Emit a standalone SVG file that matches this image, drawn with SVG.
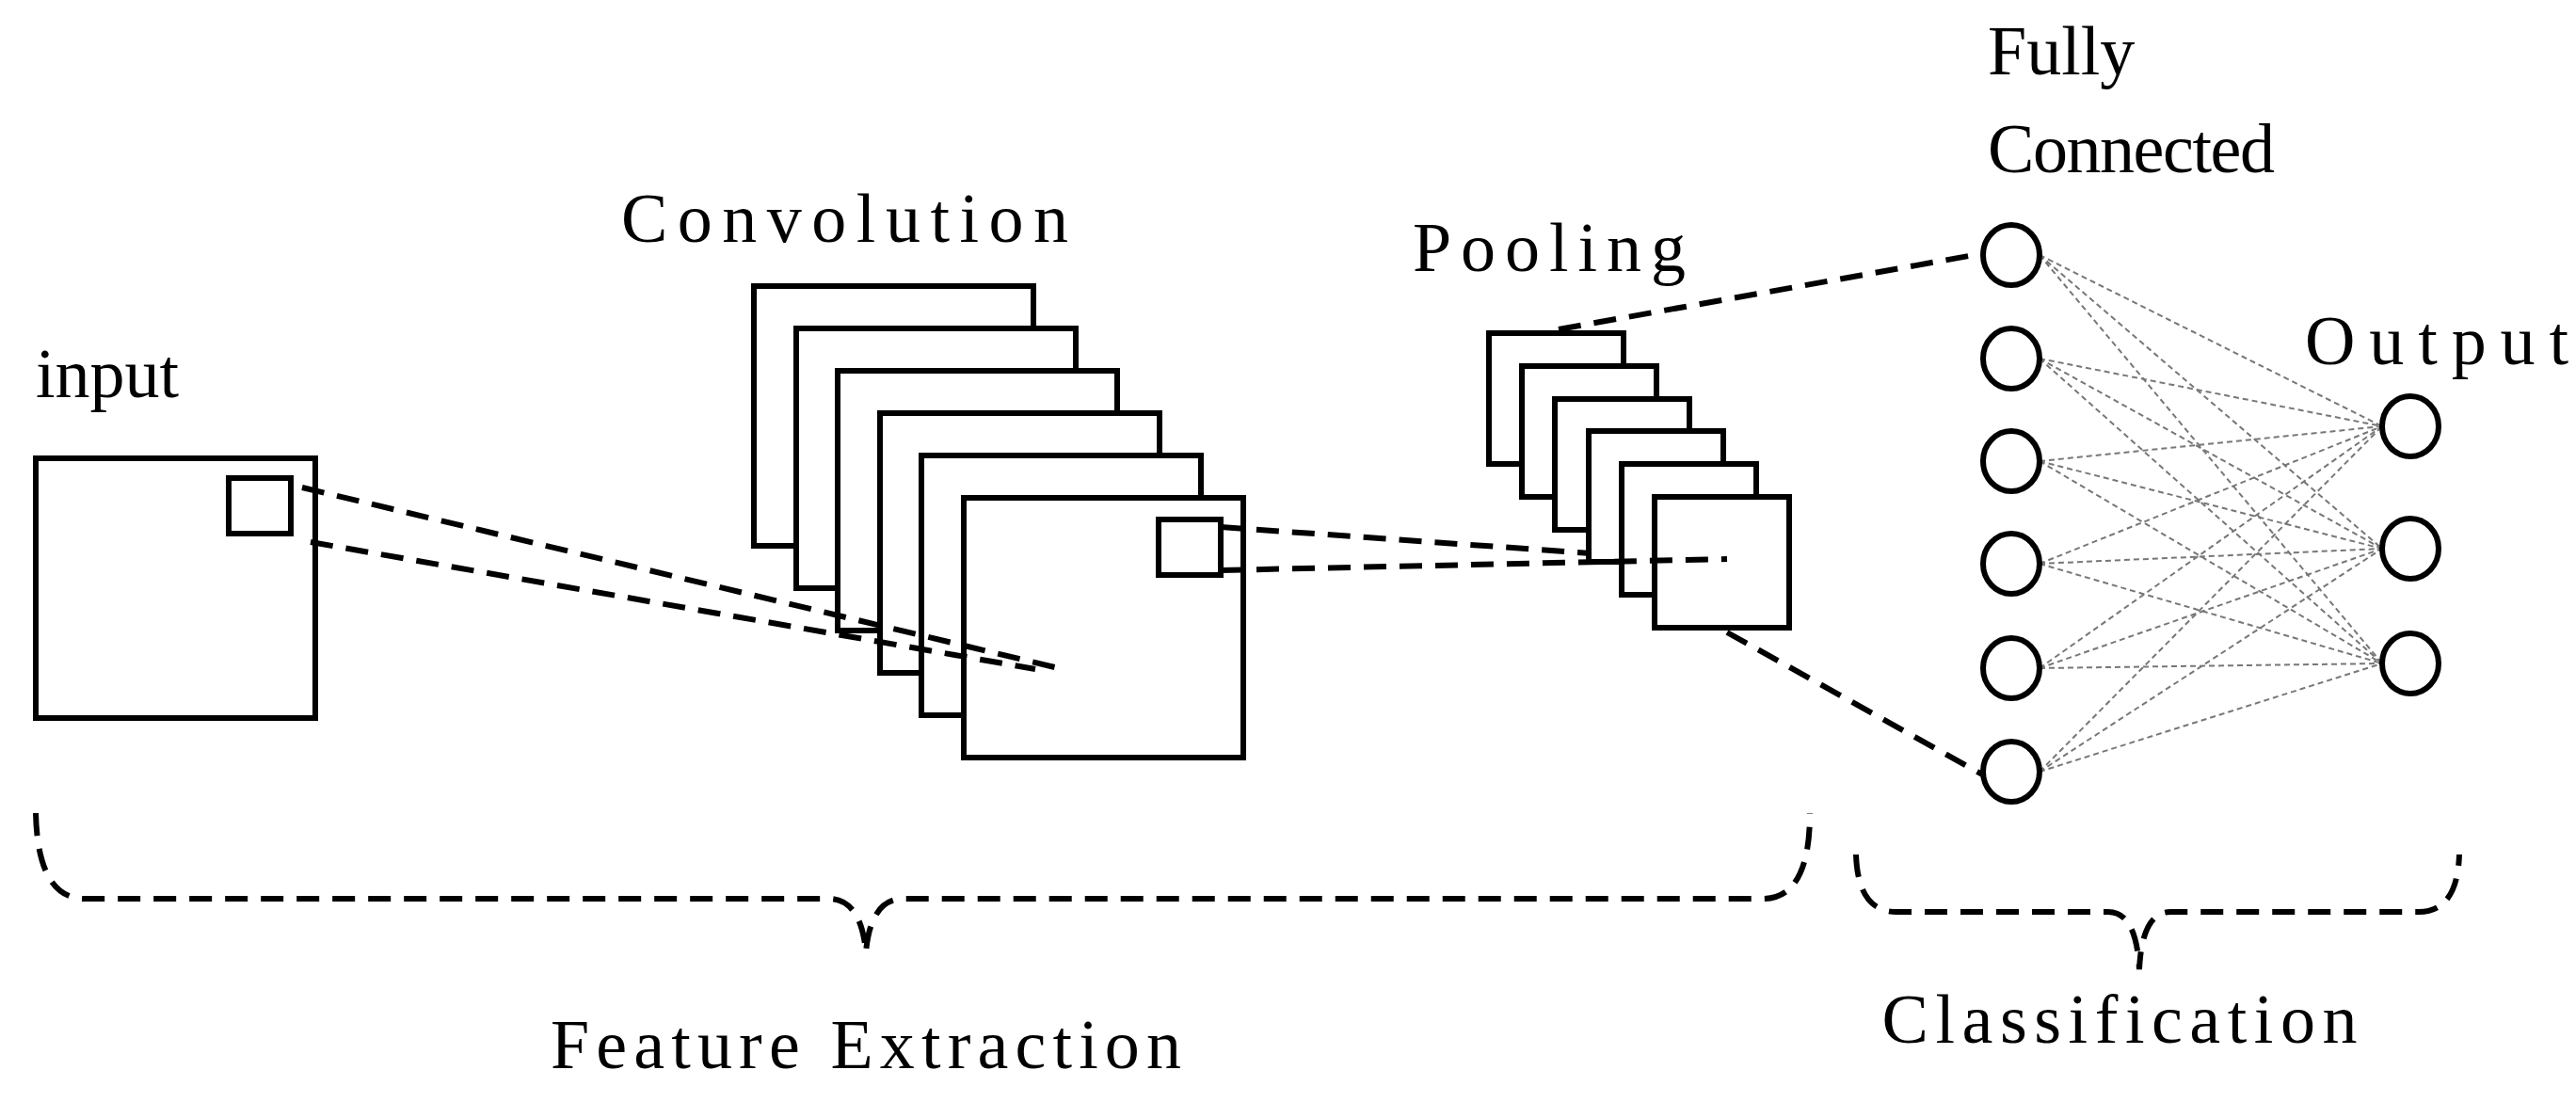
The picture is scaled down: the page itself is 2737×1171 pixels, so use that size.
<svg xmlns="http://www.w3.org/2000/svg" width="2737" height="1171" viewBox="0 0 2737 1171">
<style>
.b{fill:#fff;stroke:#000;stroke-width:6}
.d{fill:none;stroke:#000;stroke-width:6;stroke-dasharray:24 14}
.f{fill:none;stroke:#777;stroke-width:2;stroke-dasharray:6 4}
.n{fill:#fff;stroke:#000;stroke-width:6}
text{font-family:"Liberation Serif","DejaVu Serif",serif;font-size:74px;fill:#000}
</style>
<rect width="2737" height="1171" fill="#fff"/>
<g id="input">
<rect class="b" x="38" y="487" width="297" height="276"/>
<rect class="b" x="243" y="508" width="66" height="59"/>
<text x="38" y="422">input</text>
</g>
<g id="convolution">
<rect class="b" x="801" y="304" width="297" height="276"/>
<rect class="b" x="846" y="349" width="297" height="276"/>
<rect class="b" x="890" y="394" width="297" height="276"/>
<rect class="b" x="935" y="439" width="297" height="276"/>
<rect class="b" x="979" y="484" width="297" height="276"/>
<rect class="b" x="1024" y="529" width="297" height="276"/>
<rect class="b" x="1231" y="552" width="66" height="59"/>
<text x="660" y="257" textLength="475">Convolution</text>
</g>
<g id="pooling">
<rect class="b" x="1582" y="354" width="143" height="139"/>
<rect class="b" x="1617" y="389" width="143" height="139"/>
<rect class="b" x="1652" y="424" width="143" height="139"/>
<rect class="b" x="1688" y="458" width="143" height="139"/>
<rect class="b" x="1723" y="493" width="143" height="139"/>
<rect class="b" x="1758" y="528" width="143" height="139"/>
<text x="1501" y="288" textLength="290">Pooling</text>
</g>
<g id="connectors">
<path class="d" d="M321 518L1129 711M330 576L1100 711"/>
<path class="d" d="M1297 560L1690 588M1297 606L1835 594"/>
<path class="d" d="M1656 350L2103 270M1835 672L2108 824"/>
<g class="f">
<path d="M2167 271L2531 453M2167 271L2531 583M2167 271L2531 705"/>
<path d="M2167 381L2531 453M2167 381L2531 583M2167 381L2531 705"/>
<path d="M2167 490L2531 453M2167 490L2531 583M2167 490L2531 705"/>
<path d="M2167 599L2531 453M2167 599L2531 583M2167 599L2531 705"/>
<path d="M2167 710L2531 453M2167 710L2531 583M2167 710L2531 705"/>
<path d="M2167 820L2531 453M2167 820L2531 583M2167 820L2531 705"/>
</g>
<path class="d" d="M38 864Q40 955 90 955L880 955Q915 955 920 1012Q925 955 960 955L1873 955Q1923 955 1923 864"/>
<path class="d" d="M1972 908Q1974 969 2015 969L2240 969Q2270 969 2273 1030Q2276 969 2306 969L2570 969Q2611 969 2613 908"/>
</g>
<g id="fc">
<ellipse class="n" cx="2137" cy="271" rx="30" ry="32"/>
<ellipse class="n" cx="2137" cy="381" rx="30" ry="32"/>
<ellipse class="n" cx="2137" cy="490" rx="30" ry="32"/>
<ellipse class="n" cx="2137" cy="599" rx="30" ry="32"/>
<ellipse class="n" cx="2137" cy="710" rx="30" ry="32"/>
<ellipse class="n" cx="2137" cy="820" rx="30" ry="32"/>
<text x="2112" y="79">Fully</text>
<text x="2112" y="183" textLength="305">Connected</text>
</g>
<g id="output">
<ellipse class="n" cx="2561" cy="453" rx="30" ry="32"/>
<ellipse class="n" cx="2561" cy="583" rx="30" ry="32"/>
<ellipse class="n" cx="2561" cy="705" rx="30" ry="32"/>
<text x="2449" y="387" textLength="280">Output</text>
</g>
<g id="labels">
<text x="920" y="1135" text-anchor="middle" textLength="670">Feature Extraction</text>
<text x="2252" y="1108" text-anchor="middle" textLength="505">Classification</text>
</g>
</svg>
